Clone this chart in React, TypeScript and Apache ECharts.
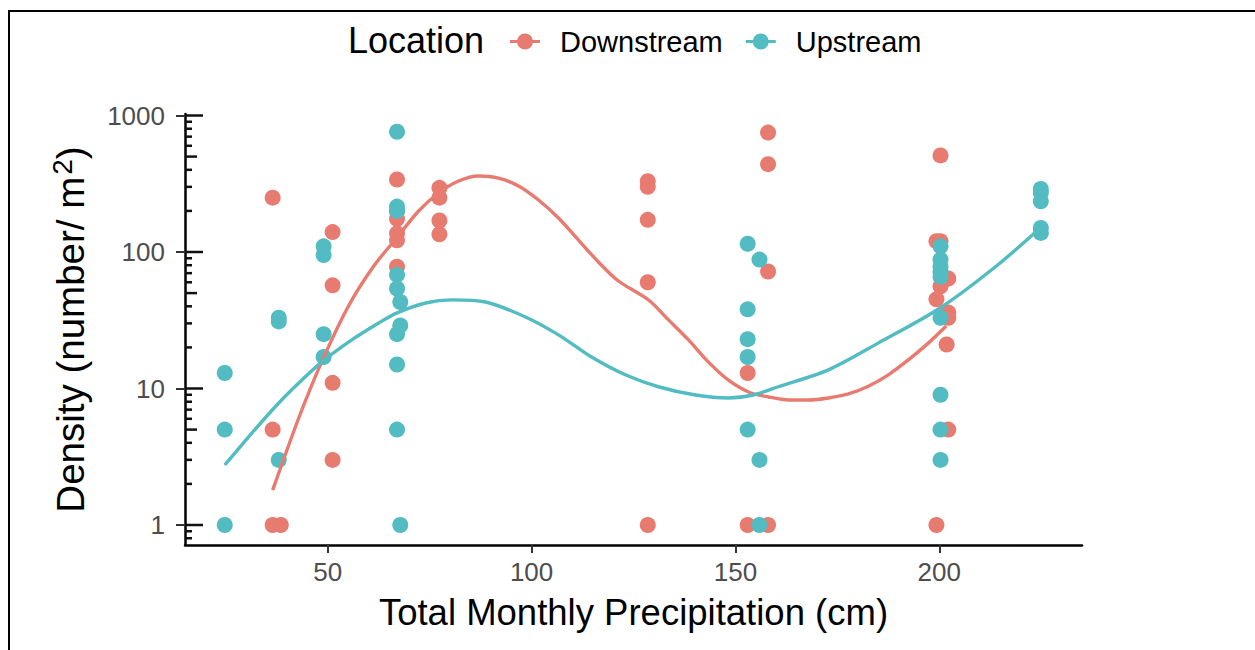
import { useEffect, useRef } from "react";
import * as echarts from "echarts";

// ---- data ----
const downX = [36.5, 36.5, 36.5, 38.5, 51.2, 51.2, 51.2, 51.2, 67, 67, 67, 67, 67, 67, 77.4, 77.4, 77.4, 77.4, 128.5, 128.5, 128.5, 128.5, 128.5, 153, 153, 158, 158, 158, 158, 200.3, 199.3, 200.3, 202.2, 200.3, 199.3, 202.2, 202.2, 201.8, 202.2, 199.3];
const downY = [250, 5, 1, 1, 140, 57, 11, 3, 340, 200, 175, 137, 122, 78, 295, 250, 170, 135, 330, 300, 172, 60, 1, 13, 1, 750, 440, 72, 1, 510, 120, 120, 64, 56, 45, 36, 33, 21, 5, 1];

const upX = [24.75, 24.75, 24.75, 38, 38, 38, 49, 49, 49, 49, 67, 67, 67, 67, 67, 67.8, 67.8, 67, 67, 67, 67.8, 153, 155.9, 153, 153, 153, 153, 155.9, 155.9, 200.3, 200.3, 200.3, 200.3, 200.3, 200.3, 200.3, 200.3, 200.3, 224.9, 224.9, 224.9, 224.9, 224.9];
const upY = [13, 5, 1, 33, 31, 3, 110, 95, 25, 17, 760, 215, 200, 68, 54, 43, 29, 25, 15, 5, 1, 115, 88, 38, 23, 17, 5, 3, 1, 110, 88, 78, 72, 66, 33, 9, 5, 3, 290, 272, 235, 150, 138];

// smoothed (loess) curves
const downSmoothX = [36.5, 42.9, 48.5, 55.1, 61.3, 66.9, 72.3, 77.2, 82.1, 87.0, 91.9, 96.8, 101.7, 106.6, 111.5, 116.4, 121.3, 128.7, 133.6, 138.5, 143.4, 148.3, 153.2, 158.1, 163.0, 167.9, 172.8, 177.7, 182.6, 187.5, 192.4, 197.3, 201.7];
const downSmoothY = [1.8, 6.08, 15.6, 40.2, 78.9, 126.7, 199.6, 270.5, 331, 360.5, 348, 304.6, 240.4, 177.5, 122.4, 84.5, 61.3, 44.5, 31.8, 22.7, 15.6, 11.5, 9.43, 8.67, 8.24, 8.24, 8.52, 9.12, 10.4, 12.6, 16.2, 21.5, 28.7];

const upSmoothX = [24.75, 31.4, 38.0, 42.9, 48.5, 55.9, 62.5, 66.9, 74.0, 80.4, 88.7, 98.5, 106.6, 114.7, 123.0, 131.1, 140.2, 148.3, 154.4, 160.5, 172.8, 185.0, 200.2, 213.7, 224.75];
const upSmoothY = [2.75, 4.72, 7.83, 10.97, 15.6, 22.7, 30.2, 35.7, 42.3, 44.6, 43.0, 33.4, 24.7, 17.0, 12.6, 10.3, 8.96, 8.52, 8.96, 10.3, 13.7, 21.5, 38.9, 77.6, 150];

const xTicks = [50, 100, 150, 200];
const yTicks = [1, 10, 100, 1000];
const decadeBases = [0.1, 1, 10, 100];
const shortMultipliers = [2, 3, 4, 6, 7, 8, 9];
const midMultipliers = [5];

const seriesNames = ["Downstream", "Upstream"];
const colors = ["#E87B70", "#52BCC2"];

export default function App() {
  const ref = useRef<HTMLDivElement>(null);

  useEffect(() => {
    const chart = echarts.init(ref.current!, null, { renderer: "svg" });
    const lg = Math.log10;
    const xMin = 15;
    const xMax = 235;
    const yMin = -0.1465;
    const yMax = 3.011;
    const inRange = (v: number) => v >= yMin && v <= yMax;
    const majorVals = yTicks.map(lg);
    const midVals = decadeBases.flatMap((d) => midMultipliers.map((m) => lg(m * d))).filter(inRange);
    const shortVals = decadeBases.flatMap((d) => shortMultipliers.map((m) => lg(m * d))).filter(inRange);
    const tickItem = (v: number, len: number) => ({
      value: [xMin, v],
      symbolSize: [len, 2.5],
      symbolOffset: [len / 2, 0],
    });
    const logTickData = [
      ...majorVals.map((v) => tickItem(v, 18)),
      ...midVals.map((v) => tickItem(v, 12)),
      ...shortVals.map((v) => tickItem(v, 7)),
    ];

    const pts = (xs: number[], ys: number[]) => xs.map((x, i) => [x, lg(ys[i])]);

    const font = "'Liberation Sans', Arial, Helvetica, sans-serif";
    const legendIcon =
      "path://M0,6.5 L7.4,6.5 L7.4,9.5 L0,9.5 Z M22.6,6.5 L30,6.5 L30,9.5 L22.6,9.5 Z M7,8 A8,8 0 1,1 23,8 A8,8 0 1,1 7,8 Z";

    const option: any = {
      animation: false,
      backgroundColor: "#fff",
      textStyle: { fontFamily: font },
      graphic: [
        {
          type: "rect",
          silent: true,
          z: -10,
          shape: { x: 9, y: 11, width: 1400, height: 800 },
          style: { fill: "none", stroke: "#000", lineWidth: 2 },
        },
      ],
      title: {
        text: "Location",
        left: 348,
        top: 22,
        padding: 0,
        textStyle: { fontSize: 36, fontWeight: "normal", color: "#000", fontFamily: font },
      },
      legend: {
        left: 510,
        top: 27,
        padding: 0,
        itemWidth: 30,
        itemHeight: 16,
        itemGap: 23,
        selectedMode: false,
        data: seriesNames.map((n) => ({ name: n, icon: legendIcon })),
        textStyle: { fontSize: 29, color: "#000", fontFamily: font, padding: [0, 0, 0, 15] },
      },
      grid: { left: 185, right: 173, top: 114, bottom: 105, containLabel: false, outerBoundsMode: "none" },
      xAxis: {
        type: "value",
        min: xMin,
        max: xMax,
        axisLine: { show: true, onZero: false, lineStyle: { color: "#000", width: 2.5 } },
        axisTick: { show: true, customValues: xTicks, length: 8, lineStyle: { color: "#333", width: 2 } },
        axisLabel: { customValues: xTicks, fontSize: 26, color: "#4D4D4D", margin: 14, fontFamily: font },
        splitLine: { show: false },
        name: "Total Monthly Precipitation (cm)",
        nameLocation: "middle",
        nameGap: 49,
        nameTextStyle: { fontSize: 36.5, color: "#000", fontFamily: font },
      },
      yAxis: {
        type: "value",
        min: yMin,
        max: yMax,
        position: "left",
        axisLine: { show: true, onZero: false, lineStyle: { color: "#000", width: 2.5 } },
        axisTick: { show: true, customValues: majorVals, length: 9, lineStyle: { color: "#333", width: 2 } },
        axisLabel: {
          customValues: majorVals,
          formatter: (v: number) => String(Math.round(Math.pow(10, v))),
          fontSize: 26,
          color: "#4D4D4D",
          margin: 20,
          fontFamily: font,
        },
        splitLine: { show: false },
        name: "Density (number/ m{sup|2})",
        nameLocation: "middle",
        nameGap: 93,
        nameTextStyle: {
          fontSize: 38.5,
          color: "#000",
          fontFamily: font,
          rich: { sup: { fontSize: 28, color: "#000", fontFamily: font, padding: [0, 0, 16, 2] } },
        },
      },
      series: [
        {
          name: "logticks",
          type: "scatter",
          silent: true,
          clip: false,
          z: 6,
          symbol: "rect",
          data: logTickData,
          itemStyle: { color: "#111", opacity: 1 },
        },
        {
          name: seriesNames[0],
          type: "scatter",
          data: pts(downX, downY),
          symbolSize: 16,
          itemStyle: { color: colors[0], opacity: 1 },
          z: 2,
        },
        {
          name: seriesNames[1],
          type: "scatter",
          data: pts(upX, upY),
          symbolSize: 16,
          itemStyle: { color: colors[1], opacity: 1 },
          z: 2,
        },
        {
          name: seriesNames[0],
          type: "line",
          data: pts(downSmoothX, downSmoothY),
          smooth: 0.3,
          showSymbol: false,
          symbol: "none",
          lineStyle: { color: colors[0], width: 3.4 },
          itemStyle: { color: colors[0] },
          z: 3,
        },
        {
          name: seriesNames[1],
          type: "line",
          data: pts(upSmoothX, upSmoothY),
          smooth: 0.3,
          showSymbol: false,
          symbol: "none",
          lineStyle: { color: colors[1], width: 3.4 },
          itemStyle: { color: colors[1] },
          z: 3,
        },
      ],
    };

    chart.setOption(option);
    return () => chart.dispose();
  }, []);

  return (
    <div
      ref={ref}
      style={{ position: "absolute", left: 0, top: 0, width: 1255, height: 650, background: "#fff" }}
    />
  );
}
